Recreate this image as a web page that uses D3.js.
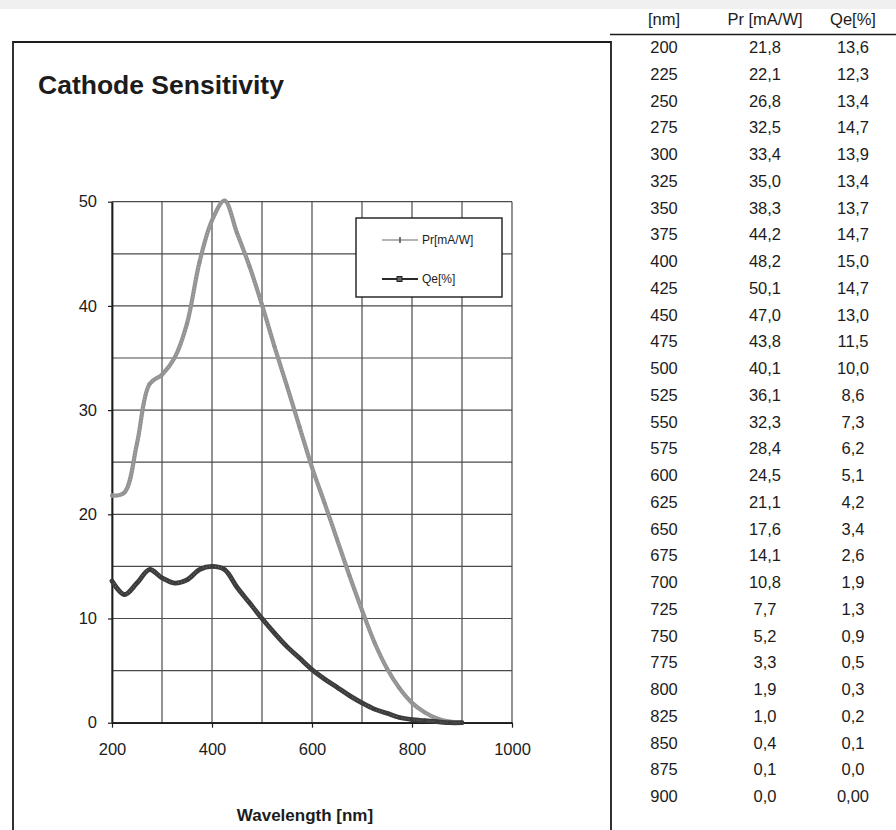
<!DOCTYPE html>
<html>
<head>
<meta charset="utf-8">
<script src="https://cdn.jsdelivr.net/npm/d3@7"></script>
<style>
  html, body { margin: 0; padding: 0; background: #fff; }
  svg { display: block; font-family: "Liberation Sans", Arial, sans-serif; }
</style>
</head>
<body>
<svg id="chart" width="896" height="830"></svg>
<script>
// Wavelength sampling of the photocathode response
const wavelengths = [200, 225, 250, 275, 300, 325, 350, 375, 400, 425, 450, 475, 500, 525, 550,
                     575, 600, 625, 650, 675, 700, 725, 750, 775, 800, 825, 850, 875, 900];
// Radiant sensitivity, mA/W
const prValues = [21.8, 22.1, 26.8, 32.5, 33.4, 35.0, 38.3, 44.2, 48.2, 50.1, 47.0, 43.8, 40.1, 36.1, 32.3,
                  28.4, 24.5, 21.1, 17.6, 14.1, 10.8, 7.7, 5.2, 3.3, 1.9, 1.0, 0.4, 0.1, 0.0];
// Quantum efficiency, %
const qeValues = [13.6, 12.3, 13.4, 14.7, 13.9, 13.4, 13.7, 14.7, 15.0, 14.7, 13.0, 11.5, 10.0, 8.6, 7.3,
                  6.2, 5.1, 4.2, 3.4, 2.6, 1.9, 1.3, 0.9, 0.5, 0.3, 0.2, 0.1, 0.0, 0.0];

const xTicks = [200, 400, 600, 800, 1000];
const yTicks = [0, 10, 20, 30, 40, 50];
const xGrid = [200, 300, 400, 500, 600, 700, 800, 900, 1000];
const yGrid = [0, 5, 10, 15, 20, 25, 30, 35, 40, 45, 50];
const tableHeaders = ["[nm]", "Pr [mA/W]", "Qe[%]"];
const seriesNames = ["Pr[mA/W]", "Qe[%]"];

const svg = d3.select("#chart");
const ink = "#1c1c1c";

// European number style: decimal comma
const locale = d3.formatLocale({ decimal: ",", thousands: ".", grouping: [3], currency: ["", ""] });
const f1 = locale.format(".1f");
const f2 = locale.format(".2f");

// faint band along the top edge of the sheet
svg.append("rect").attr("x", 0).attr("y", 0).attr("width", 896).attr("height", 9)
  .attr("fill", "#f0f0f0");

// chart frame
svg.append("path")
  .attr("d", "M13,832 L13,42 L611,42 L611,832")
  .attr("fill", "none").attr("stroke", ink).attr("stroke-width", 1.8);

// title
svg.append("text").attr("x", 38).attr("y", 94)
  .attr("font-size", 26.5).attr("font-weight", "bold").attr("fill", ink)
  .text("Cathode Sensitivity");

// scales
const x = d3.scaleLinear().domain([200, 1000]).range([112, 512]);
const y = d3.scaleLinear().domain([0, 50]).range([722.7, 201.7]);

// grid
const grid = svg.append("g");
grid.selectAll("line.v").data(xGrid).join("line").attr("class", "v")
  .attr("x1", d => x(d)).attr("x2", d => x(d))
  .attr("y1", y(0)).attr("y2", y(50))
  .attr("stroke", "#4a4a4a").attr("stroke-width", 1.2);
grid.selectAll("line.h").data(yGrid).join("line").attr("class", "h")
  .attr("x1", x(200)).attr("x2", x(1000))
  .attr("y1", d => y(d)).attr("y2", d => y(d))
  .attr("stroke", "#4a4a4a").attr("stroke-width", 1.2);

// axes
const yAxis = svg.append("g").attr("transform", `translate(${x(200)},0)`)
  .call(d3.axisLeft(y).tickValues(yTicks).tickFormat(d3.format("d"))
    .tickSize(4).tickSizeOuter(0).tickPadding(11));
const xAxis = svg.append("g").attr("transform", `translate(0,${y(0)})`)
  .call(d3.axisBottom(x).tickValues(xTicks).tickFormat(d3.format("d"))
    .tickSize(5).tickSizeOuter(0).tickPadding(16));
[xAxis, yAxis].forEach(a => {
  a.select(".domain").attr("stroke", ink).attr("stroke-width", 1.8);
  a.selectAll(".tick line").attr("stroke", ink).attr("stroke-width", 1.2);
  a.selectAll(".tick text").attr("font-size", 16.5).attr("fill", ink)
    .attr("font-family", "'Liberation Sans', Arial, sans-serif");
});

// axis title
svg.append("text").attr("x", 305).attr("y", 821).attr("text-anchor", "middle")
  .attr("font-size", 17).attr("font-weight", "bold").attr("fill", ink)
  .text("Wavelength [nm]");

// series
const prData = wavelengths.map((w, i) => ({ w, v: prValues[i] }));
const qeData = wavelengths.map((w, i) => ({ w, v: qeValues[i] }));
const line = d3.line().x(d => x(d.w)).y(d => y(d.v)).curve(d3.curveCatmullRom.alpha(0.5));

const series = [
  { data: prData, color: "#939393", width: 4.2 },
  { data: qeData, color: "#3c3c3c", width: 4.8 }
];
series.forEach(s => {
  svg.append("path").datum(s.data).attr("d", line)
    .attr("fill", "none").attr("stroke", s.color).attr("stroke-width", s.width)
    .attr("stroke-linejoin", "round").attr("stroke-linecap", "round");
  svg.append("path").datum(s.data).attr("d", line)
    .attr("fill", "none").attr("stroke", "#ffffff").attr("stroke-opacity", 0.25)
    .attr("stroke-width", 1.2).attr("stroke-dasharray", "1 2");
  svg.append("g").selectAll("circle").data(s.data).join("circle")
    .attr("cx", d => x(d.w)).attr("cy", d => y(d.v)).attr("r", 2)
    .attr("fill", s.color);
});

// legend
const lg = svg.append("g");
lg.append("rect").attr("x", 356).attr("y", 218).attr("width", 146).attr("height", 79)
  .attr("fill", "#fff").attr("stroke", ink).attr("stroke-width", 1.4);
const legendY = [240, 279];
seriesNames.forEach((name, i) => {
  const yy = legendY[i];
  lg.append("line").attr("x1", 382).attr("x2", 418).attr("y1", yy).attr("y2", yy)
    .attr("stroke", i === 0 ? "#6a6a6a" : "#2a2a2a").attr("stroke-width", i === 0 ? 1.2 : 2);
  if (i === 0) {
    lg.append("line").attr("x1", 400).attr("x2", 400).attr("y1", yy - 3).attr("y2", yy + 3)
      .attr("stroke", "#444").attr("stroke-width", 1.4);
  } else {
    lg.append("rect").attr("x", 397).attr("y", yy - 2.5).attr("width", 5).attr("height", 5)
      .attr("fill", "#666").attr("stroke", "#222").attr("stroke-width", 1);
  }
  lg.append("text").attr("x", 422).attr("y", yy + 4.3)
    .attr("font-size", 12).attr("fill", ink).text(name);
});

// data table
const colX = [664, 765, 853];
const table = svg.append("g").attr("fill", ink).attr("font-size", 16.5).attr("text-anchor", "middle");
tableHeaders.forEach((h, i) => {
  table.append("text").attr("x", colX[i]).attr("y", 25).text(h);
});
svg.append("line").attr("x1", 610).attr("x2", 896).attr("y1", 34.5).attr("y2", 34.5)
  .attr("stroke", ink).attr("stroke-width", 1.6);

const rowY = d3.scaleLinear().domain([0, wavelengths.length - 1]).range([53, 802]);
wavelengths.forEach((w, i) => {
  const last = i === wavelengths.length - 1;
  // the final quantum-efficiency reading is printed to two places
  const cells = [String(w), f1(prValues[i]), last ? f2(qeValues[i]) : f1(qeValues[i])];
  cells.forEach((c, j) => {
    table.append("text").attr("x", colX[j]).attr("y", rowY(i)).text(c);
  });
});
</script>
</body>
</html>
